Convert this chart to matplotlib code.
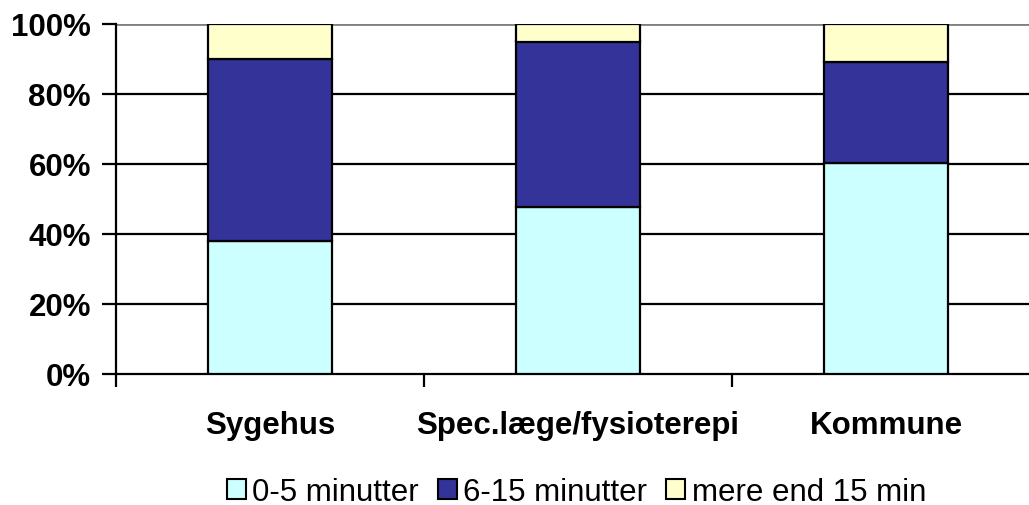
import numpy as np
import matplotlib.pyplot as plt
from matplotlib.patches import Patch
from matplotlib.ticker import PercentFormatter

plt.rcParams['font.family'] = ['Liberation Sans', 'DejaVu Sans']

categories = ["Sygehus", "Spec.læge/fysioterepi", "Kommune"]
series_names = ["0-5 minutter", "6-15 minutter", "mere end 15 min"]
kort = [38.1, 47.6, 60.2]
mellem = [51.9, 47.4, 29.0]
lang = [10.0, 5.0, 10.8]
colors = ["#CCFFFF", "#333399", "#FFFFCC"]

fig = plt.figure(figsize=(10.29, 5.06), dpi=100)
ax = fig.add_axes([116/1029, 131/506, 924/1029, 350/506])

x = np.arange(len(categories))
bottom = np.zeros(len(categories))
for vals, c in zip([kort, mellem, lang], colors):
    ax.bar(x, vals, 0.4, bottom=bottom, color=c, edgecolor="black", linewidth=1.6, zorder=3)
    bottom += np.array(vals)

ax.set_xlim(-0.5, 2.5)
ax.set_ylim(0, 100)
ax.set_yticks(range(0, 101, 20))
ax.yaxis.set_major_formatter(PercentFormatter(decimals=0))
for yv in [20, 40, 60, 80]:
    ax.axhline(yv, color="black", lw=1.6, zorder=1)
ax.axhline(100, color="#808080", lw=2, zorder=1)

ax.set_xticks([-0.5, 0.5, 1.5, 2.5])
ax.set_xticklabels([])
ax.set_xticks(x, minor=True)
ax.set_xticklabels(categories, minor=True, fontsize=22.5, fontweight="bold")
ax.tick_params(axis="x", which="minor", length=0, pad=26)
ax.tick_params(axis="x", which="major", length=9, width=1.6, direction="out")
ax.tick_params(axis="y", length=10, width=1.6, direction="out", labelsize=22.5, pad=8)
for lab in ax.get_yticklabels():
    lab.set_fontweight("bold")

for s in ["top", "right"]:
    ax.spines[s].set_visible(False)
ax.spines["left"].set_linewidth(1.6)
ax.spines["bottom"].set_linewidth(1.6)

handles = [Patch(facecolor=c, edgecolor="black", linewidth=1.5) for c in colors]
fig.legend(handles, series_names, loc="center", bbox_to_anchor=(0.56, 0.026), ncol=3,
           frameon=False, fontsize=22.5, handlelength=0.62, handleheight=0.62,
           handletextpad=0.2, columnspacing=0.6, borderaxespad=0)

fig.savefig("out.png", dpi=100)
